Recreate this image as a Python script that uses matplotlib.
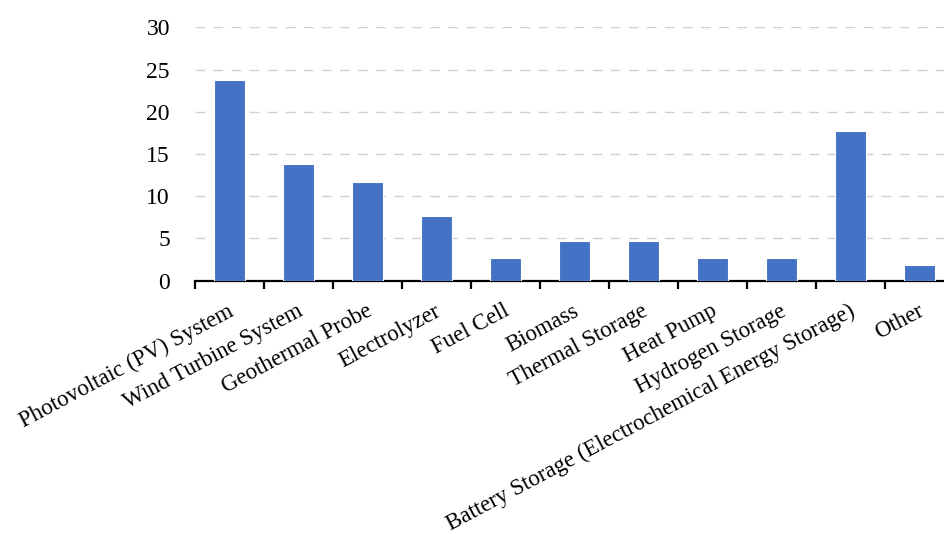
import matplotlib
matplotlib.use("Agg")
import matplotlib.pyplot as plt
from matplotlib.transforms import ScaledTranslation

categories = ["Photovoltaic (PV) System", "Wind Turbine System", "Geothermal Probe",
              "Electrolyzer", "Fuel Cell", "Biomass", "Thermal Storage", "Heat Pump",
              "Hydrogen Storage", "Battery Storage (Electrochemical Energy Storage)", "Other"]
values = [23.8, 13.8, 11.7, 7.7, 2.7, 4.7, 4.7, 2.7, 2.7, 17.7, 1.8]
yticks = [0, 5, 10, 15, 20, 25, 30]

plt.rcParams['font.family'] = ['Liberation Serif', 'DejaVu Serif']

fig = plt.figure(figsize=(9.45, 5.34), dpi=100)
ax = fig.add_axes([195/945, 1-280.7/534, 759/945, (280.7-27.3)/534])

x = list(range(len(categories)))
ax.bar(x, values, width=0.45, color="#4472C4", edgecolor="white", linewidth=0.8, zorder=3)
ax.set_xlim(-0.5, len(categories)-0.5)
ax.set_ylim(0, 30)
ax.set_yticks(yticks)
ax.set_yticklabels([str(v) for v in yticks], fontsize=17)
ax.tick_params(axis='y', length=0, pad=18)
ax.yaxis.grid(True, color="#d0d0d0", linewidth=1.0, linestyle=(0, (7, 6)), zorder=0)
ax.set_axisbelow(True)

for s in ["top", "right", "left"]:
    ax.spines[s].set_visible(False)
ax.spines["bottom"].set_linewidth(1.6)
ax.spines["bottom"].set_color("black")

ax.set_xticks([i + 0.5 for i in range(-1, len(categories))], minor=False)
ax.set_xticklabels([])
ax.tick_params(axis='x', length=6, width=1.6, direction='out', color='black')

for i, c in enumerate(categories):
    ax.text(i, 0, c, rotation=28, ha='right', va='top', rotation_mode='anchor',
            fontsize=16.5,
            transform=ax.get_xaxis_transform() + ScaledTranslation(-2/100, -20/100, fig.dpi_scale_trans))

fig.savefig("out.png", dpi=100)
